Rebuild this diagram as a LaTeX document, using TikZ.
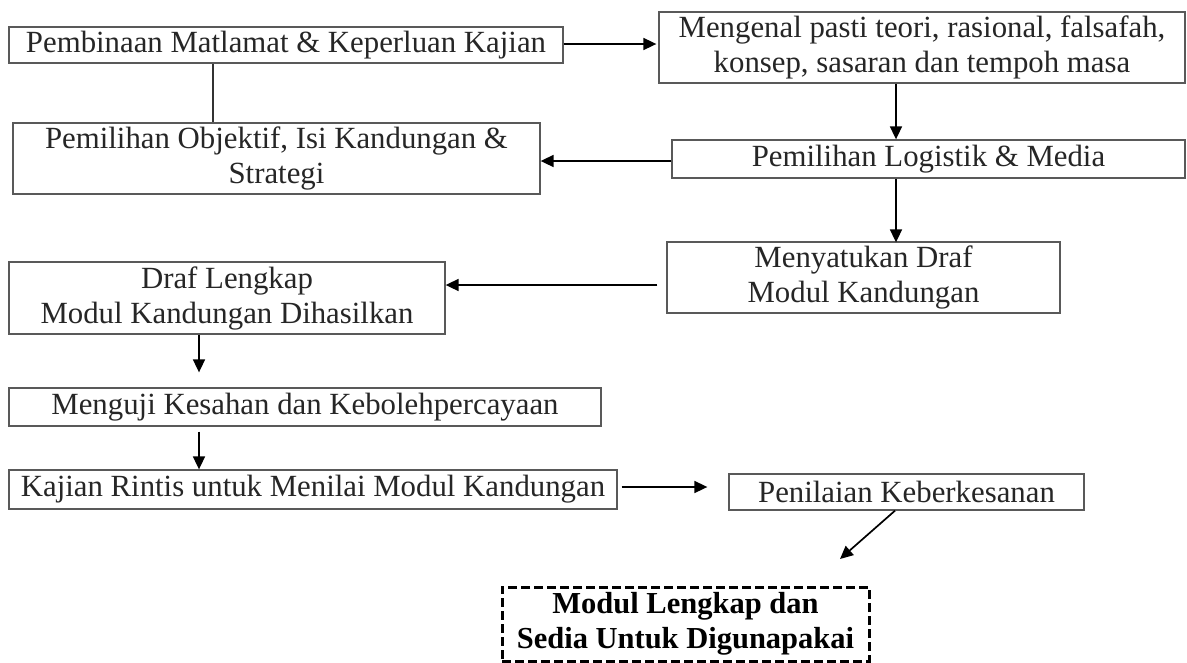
\documentclass[tikz,border=0pt]{standalone}
\usepackage{fontspec}
\setmainfont{Liberation Serif}
\usetikzlibrary{arrows.meta,calc}
\begin{document}
\begin{tikzpicture}[x=1pt,y=-1pt,
  box/.style={draw=black!65, line width=1.3pt, rectangle, inner sep=0pt, align=center,
    text=black!85, font=\fontsize{30.8}{35}\selectfont},
  finalbox/.style={draw=black, line width=3pt, dash pattern=on 9pt off 4pt, rectangle, inner sep=0pt,
    align=center, text=black, font=\fontsize{30.5}{35}\selectfont\bfseries},
  arr/.style={draw=black, line width=1.7pt, -{Triangle[length=13pt,width=12pt]}},
  plain/.style={draw=black!80, line width=1.7pt}]
\fill[white] (0,0) rectangle (1187,662);
\useasboundingbox (0,0) rectangle (1187,662);

\node[box, minimum width=554, minimum height=36] (b1) at (286,45) {Pembinaan Matlamat \& Keperluan Kajian};
\node[box, minimum width=527, minimum height=71] (b2) at (276.5,158.5) {Pemilihan Objektif, Isi Kandungan \&\\Strategi};
\node[box, minimum width=526, minimum height=71] (b3) at (922,47.5) {Mengenal pasti teori, rasional, falsafah,\\konsep, sasaran dan tempoh masa};
\node[box, minimum width=513, minimum height=38] (b4) at (928.5,159) {Pemilihan Logistik \& Media};
\node[box, minimum width=393, minimum height=71] (b5) at (863.5,277.5) {Menyatukan Draf\\Modul Kandungan};
\node[box, minimum width=436, minimum height=72] (b6) at (227,298) {Draf Lengkap\\Modul Kandungan Dihasilkan};
\node[box, minimum width=592, minimum height=38] (b7) at (305,407) {Menguji Kesahan dan Kebolehpercayaan};
\node[box, minimum width=608, minimum height=39] (b8) at (313,489.5) {Kajian Rintis untuk Menilai Modul Kandungan};
\node[box, minimum width=355, minimum height=36] (b9) at (906.5,492) {Penilaian Keberkesanan};
\node[finalbox, minimum width=367, minimum height=74] (b10) at (685.5,624) {Modul Lengkap dan\\Sedia Untuk Digunapakai};

\coordinate (x213) at (213,0);
\coordinate (x896) at (896,0);
\coordinate (x199) at (199,0);
\coordinate (x895) at (895,0);
\coordinate (y43) at (0,44);
\coordinate (y161) at (0,161);
\coordinate (y285) at (0,285);
\coordinate (y487) at (0,487);
\coordinate (e9) at (840,559);

\draw[arr] (b1.east |- y43) -- ([xshift=-2pt]b3.west |- y43);
\draw[plain] (b1.south -| x213) -- (b2.north -| x213);
\draw[arr] (b3.south -| x896) -- (b4.north -| x896);
\draw[arr] (b4.west |- y161) -- (b2.east |- y161);
\draw[arr] (b4.south -| x896) -- ([yshift=-1pt]b5.north -| x896);
\draw[arr] ([xshift=-9pt]b5.west |- y285) -- (b6.east |- y285);
\draw[arr, shorten >=15pt] (b6.south -| x199) -- (b7.north -| x199);
\draw[arr, shorten <=5pt] (b7.south -| x199) -- (b8.north -| x199);
\draw[arr, shorten <=4pt, shorten >=21pt] (b8.east |- y487) -- (b9.west |- y487);
\draw[arr] (b9.south -| x895) -- (e9);
\end{tikzpicture}
\end{document}
